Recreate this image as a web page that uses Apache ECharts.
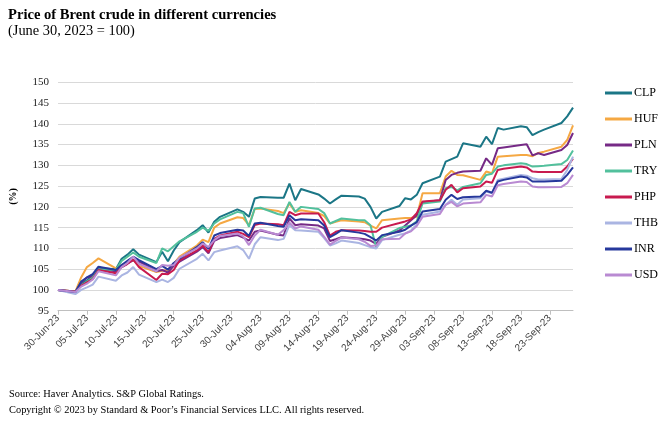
<!DOCTYPE html>
<html><head><meta charset="utf-8">
<script src="https://cdn.jsdelivr.net/npm/echarts@6/dist/echarts.min.js"></script>
<style>html,body{margin:0;padding:0;background:#fff}#c{width:660px;height:431px}</style>
</head><body><div id="c"></div>
<script>
const bizDates = [
 '2023-06-30',
 '2023-07-03','2023-07-04','2023-07-05','2023-07-06','2023-07-07',
 '2023-07-10','2023-07-11','2023-07-12','2023-07-13','2023-07-14',
 '2023-07-17','2023-07-18','2023-07-19','2023-07-20','2023-07-21',
 '2023-07-24','2023-07-25','2023-07-26','2023-07-27','2023-07-28',
 '2023-07-31','2023-08-01','2023-08-02','2023-08-03','2023-08-04',
 '2023-08-07','2023-08-08','2023-08-09','2023-08-10','2023-08-11',
 '2023-08-14','2023-08-15','2023-08-16','2023-08-17','2023-08-18',
 '2023-08-21','2023-08-22','2023-08-23','2023-08-24','2023-08-25',
 '2023-08-28','2023-08-29','2023-08-30','2023-08-31','2023-09-01',
 '2023-09-04','2023-09-05','2023-09-06','2023-09-07','2023-09-08',
 '2023-09-11','2023-09-12','2023-09-13','2023-09-14','2023-09-15',
 '2023-09-18','2023-09-19','2023-09-20','2023-09-21','2023-09-22',
 '2023-09-25','2023-09-26','2023-09-27'
];
const CLP = [100,
 99.6,101.5,102.3,103.5,105.3, 105.0,107.5,108.5,109.8,108.5, 106.7,109.2,106.9,109.5,111.5,
 114.4,115.6,113.8,116.4,117.6, 119.4,118.8,117.6,122.0,122.4, 122.2,122.2,125.6,121.6,124.3,
 123.0,122.0,120.8,121.8,122.7, 122.5,122.0,120.0,117.2,118.8, 120.2,122.1,121.8,122.9,125.7,
 127.3,130.9,131.5,132.1,135.3, 134.5,136.9,135.1,139.0,138.6, 139.4,139.2,137.3,138.0,138.6,
 140.2,141.8,143.9];
const HUF = [100,
 99.6,103.0,105.5,106.5,107.6, 105.2,106.0,106.5,107.2,105.8, 104.3,104.6,104.8,106.3,108.0,
 110.7,112.1,111.5,115.0,116.0, 117.5,117.3,115.6,119.5,119.6, 119.0,118.5,120.8,118.8,119.2,
 118.5,117.8,116.0,116.4,116.8, 116.5,116.3,115.5,114.8,116.8, 117.2,117.3,117.3,117.6,123.3,
 123.3,127.3,128.7,127.7,127.6, 126.5,128.5,128.1,132.1,132.2, 132.5,132.5,132.2,133.0,133.3,
 134.5,136.1,139.6];
const PLN = [100,
 99.4,101.8,103.0,103.2,105.0, 104.5,105.5,106.3,107.2,106.8, 104.5,104.8,104.2,105.8,106.8,
 109.2,110.3,108.8,111.8,112.5, 113.2,112.6,111.9,114.0,114.3, 113.3,113.1,117.2,115.6,115.8,
 115.5,114.8,111.8,112.2,112.7, 112.4,112.2,111.9,111.1,112.8, 114.3,115.5,116.8,118.0,121.1,
 121.6,126.5,127.7,128.2,128.5, 128.7,131.7,130.1,134.1,134.3, 134.9,135.1,132.4,132.9,132.5,
 133.7,134.9,137.8];
const TRY = [100,
 99.5,101.0,102.0,103.0,105.0, 104.8,107.0,108.0,109.0,108.0, 106.5,110.0,109.3,110.5,111.7,
 114.0,115.0,114.2,116.0,117.0, 118.8,118.5,115.2,119.6,119.8, 118.3,118.0,121.2,118.8,120.0,
 119.5,118.5,116.0,116.6,117.2, 116.8,116.8,115.6,110.2,112.8, 114.9,115.2,115.5,116.5,120.8,
 121.3,124.5,124.8,124.0,124.8, 125.7,127.7,128.0,129.7,130.0, 130.5,130.3,129.7,129.8,129.9,
 130.3,131.3,133.6];
const PHP = [100,
 99.6,101.0,101.8,102.6,104.8, 104.0,105.5,106.3,107.3,105.5, 102.4,103.9,103.8,104.8,107.1,
 109.5,110.7,109.1,112.3,113.1, 114.0,113.5,112.7,115.6,116.0, 115.8,115.6,118.8,118.0,118.4,
 118.4,116.3,113.1,114.0,114.4, 114.3,114.2,114.0,114.0,115.0, 116.1,116.5,117.0,118.5,121.3,
 121.6,124.1,125.3,123.5,124.5, 124.9,126.1,125.8,128.9,129.2, 129.7,129.5,128.5,128.4,128.4,
 128.4,129.7,131.6];
const THB = [100,
 99.0,100.0,100.6,101.3,103.2, 102.2,103.5,104.2,105.5,103.7, 101.9,102.5,101.9,102.9,105.1,
 107.5,108.7,107.1,109.1,109.5, 110.5,109.6,107.5,111.0,112.7, 112.0,112.3,115.6,114.4,114.3,
 114.0,112.5,110.7,111.2,111.9, 111.3,110.8,110.3,110.0,112.0, 113.3,113.6,114.3,115.8,118.1,
 118.9,120.5,121.7,120.5,121.8, 122.1,123.7,123.3,126.5,126.8, 127.7,127.5,126.9,126.6,126.6,
 126.7,128.9,132.1];
const INR = [100,
 99.5,102.0,103.0,103.8,105.6, 104.8,106.0,107.0,108.0,107.2, 105.0,105.8,104.9,106.5,107.5,
 110.3,111.5,109.9,113.1,113.7, 114.5,114.3,113.0,116.0,116.2, 115.4,115.2,118.0,116.8,117.0,
 116.8,115.5,112.7,113.5,114.4, 113.8,113.5,112.7,111.9,113.2, 114.0,114.5,115.5,116.3,118.9,
 119.5,121.7,122.9,121.9,122.3, 122.5,123.9,123.4,126.1,126.5, 127.3,127.1,126.1,126.1,126.1,
 126.3,127.7,129.5];
const USD = [100,
 99.5,100.8,101.5,102.5,104.5, 103.5,105.5,106.5,108.0,106.3, 104.5,106.0,105.8,106.0,107.8,
 110.0,111.2,110.3,112.0,113.0, 113.6,112.9,110.8,113.1,114.5, 113.3,114.4,116.2,114.8,115.3,
 114.5,112.8,110.9,111.8,112.6, 112.2,111.6,110.6,110.7,112.2, 112.3,113.6,114.1,115.4,117.6,
 118.3,120.5,121.2,120.1,120.8, 121.1,122.9,122.5,125.2,125.5, 126.1,126.0,124.9,124.7,124.7,
 124.8,125.7,127.7];

const seriesNames = ['CLP','HUF','PLN','TRY','PHP','THB','INR','USD'];
const seriesValues = [CLP,HUF,PLN,TRY,PHP,THB,INR,USD];
const colors = ['#1b7686','#f5a843','#762a86','#52c09c','#c81a4f','#aab5e2','#26389c','#b98ad2'];
const yTicks = {min:95, max:150, interval:5};

// calendar categories (date axis)
const months = ['Jan','Feb','Mar','Apr','May','Jun','Jul','Aug','Sep','Oct','Nov','Dec'];
const keys = [], cats = [];
const t0 = Date.UTC(2023,5,30), t1 = Date.UTC(2023,8,27);
for (let t=t0; t<=t1; t+=864e5){
  const d = new Date(t);
  keys.push(d.toISOString().slice(0,10));
  cats.push(String(d.getUTCDate()).padStart(2,'0')+'-'+months[d.getUTCMonth()]+'-23');
}

const serif = 'Liberation Serif';
const chart = echarts.init(document.getElementById('c'), null, {renderer:'canvas'});
chart.setOption({
  animation:false,
  title:[
    {text:'Price of Brent crude in different currencies', left:3, top:3,
     textStyle:{fontFamily:serif, fontWeight:'bold', fontSize:14.6, color:'#000'}},
    {text:'(June 30, 2023 = 100)', left:3, top:19,
     textStyle:{fontFamily:serif, fontWeight:'normal', fontSize:14.4, color:'#000'}},
    {text:'Source: Haver Analytics. S&P Global Ratings.', left:4, top:384,
     textStyle:{fontFamily:serif, fontWeight:'normal', fontSize:10.4, color:'#000'}},
    {text:'Copyright \u00a9 2023 by Standard & Poor\u2019s Financial Services LLC. All rights reserved.', left:4, top:400,
     textStyle:{fontFamily:serif, fontWeight:'normal', fontSize:10.4, color:'#000'}}
  ],
  legend:{
    orient:'vertical', left:600, top:81, itemWidth:27, itemHeight:3, itemGap:12, icon:'rect',
    data:seriesNames,
    textStyle:{fontFamily:serif, fontSize:12, color:'#000', lineHeight:14, padding:[0,0,0,-3]}
  },
  grid:{left:56, right:87, top:82.3, bottom:120.3},
  xAxis:{
    type:'category', data:cats, boundaryGap:false,
    axisLine:{lineStyle:{color:'#bfbfbf'}},
    axisTick:{show:true, interval:4, length:4, lineStyle:{color:'#bfbfbf'}},
    axisLabel:{interval:4, rotate:45, margin:6, fontFamily:'Liberation Sans', fontSize:10, color:'#404040'},
    splitLine:{show:false}
  },
  yAxis:{
    type:'value', min:yTicks.min, max:yTicks.max, interval:yTicks.interval,
    name:'(%)', nameLocation:'middle', nameGap:40, nameRotate:90,
    nameTextStyle:{fontFamily:serif, fontSize:10, fontWeight:'bold', color:'#000'},
    axisLine:{show:false}, axisTick:{show:false},
    axisLabel:{margin:9, fontFamily:serif, fontSize:11, color:'#222'},
    splitLine:{lineStyle:{color:'#d9d9d9', width:1}}
  },
  series: seriesNames.map((n,i)=>{
    const m = {};
    bizDates.forEach((k,j)=>{ m[k] = seriesValues[i][j]; });
    return {
      name:n, type:'line', showSymbol:false, connectNulls:true,
      data: keys.map(k => (k in m) ? m[k] : null),
      lineStyle:{width:2, color:colors[i]}, itemStyle:{color:colors[i]}
    };
  })
});
</script></body></html>
